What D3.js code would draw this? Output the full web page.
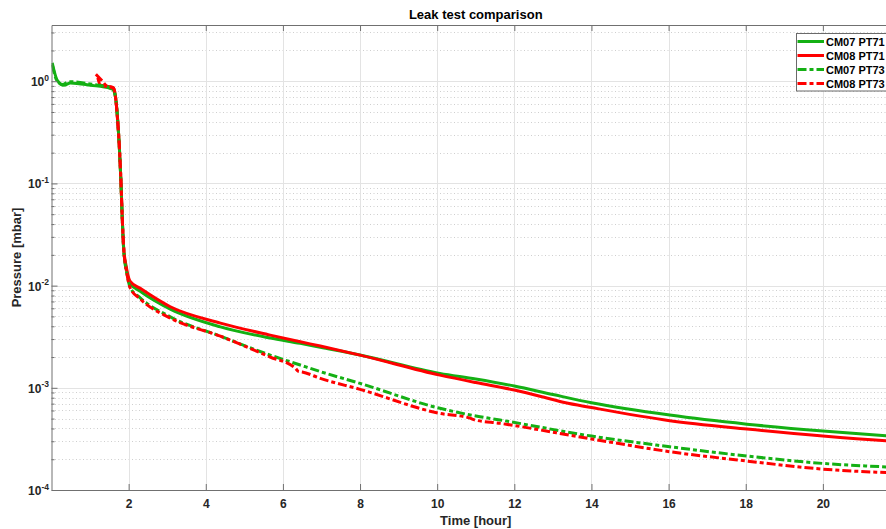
<!DOCTYPE html>
<html>
<head>
<meta charset="utf-8">
<script src="https://cdn.jsdelivr.net/npm/d3@7"></script>
<style>
  html, body { margin: 0; padding: 0; background: #fff; }
  svg { display: block; font-family: "Liberation Sans", Arial, Helvetica, sans-serif; }
</style>
</head>
<body>
<svg id="chart" width="886" height="529"></svg>
<script>
// ---------------- DATA ----------------
const seriesNames = ["CM07 PT71", "CM08 PT71", "CM07 PT73", "CM08 PT73"];
const seriesColors = ["#14b014", "#ff0000", "#14b014", "#ff0000"];
const seriesDashed = [false, false, true, true];

// time [hour] / pressure [mbar]
const timeCM07PT71 = [0.02, 0.15, 0.32, 0.49, 1.01, 1.53, 1.6, 1.66, 1.71, 1.76, 1.8, 1.83, 1.87, 1.94, 2.04, 2.3, 3.08, 4.38, 5.67, 6.45, 6.97, 8.0, 10.07, 11.0, 12.0, 13.0, 14.0, 16.03, 18.03, 20.0, 21.63, 22.0];
const presCM07PT71 = [1.51, 1.02, 0.914, 0.962, 0.914, 0.848, 0.83, 0.70, 0.45, 0.22, 0.105, 0.05, 0.023, 0.0145, 0.0105, 0.0088, 0.00589, 0.00395, 0.00307, 0.00272, 0.00249, 0.00209, 0.00138, 0.001218, 0.00104, 0.000859, 0.000714, 0.000541, 0.000441, 0.000377, 0.00034, 0.000333];

const timeCM08PT71 = [1.2, 1.27, 1.42, 1.57, 1.61, 1.66, 1.70, 1.76, 1.80, 1.83, 1.87, 1.94, 2.04, 2.3, 3.08, 4.38, 5.67, 6.45, 6.97, 8.0, 10.07, 11.0, 12.0, 12.75, 13.3, 14.0, 16.03, 18.03, 20.0, 21.63, 22.0];
const presCM08PT71 = [1.08, 0.914, 0.894, 0.874, 0.854, 0.70, 0.486, 0.227, 0.107, 0.051, 0.024, 0.0152, 0.011, 0.0094, 0.00621, 0.0043, 0.00328, 0.00282, 0.00256, 0.00209, 0.00133, 0.001125, 0.000951, 0.000812, 0.000717, 0.000641, 0.000477, 0.000395, 0.000337, 0.000303, 0.000297];

const timeCM07PT73 = [0.02, 0.15, 0.3, 0.45, 1.0, 1.5, 1.58, 1.66, 1.71, 1.76, 1.8, 1.83, 1.87, 1.96, 2.04, 2.3, 3.08, 4.38, 5.67, 6.45, 6.97, 8.0, 10.07, 11.11, 11.63, 14.0, 16.03, 18.03, 20.0, 21.63, 22.0];
const presCM07PT73 = [1.45, 1.0, 0.93, 0.99, 0.94, 0.87, 0.85, 0.70, 0.45, 0.22, 0.105, 0.05, 0.023, 0.0128, 0.0096, 0.0076, 0.00495, 0.0032, 0.00209, 0.00167, 0.00144, 0.001105, 0.00063, 0.000521, 0.000484, 0.000337, 0.000265, 0.000215, 0.000182, 0.000168, 0.000165];

const timeCM08PT73 = [1.15, 1.3, 1.45, 1.58, 1.61, 1.66, 1.70, 1.76, 1.80, 1.83, 1.87, 1.96, 2.04, 2.3, 3.08, 4.38, 5.67, 6.32, 6.40, 6.50, 6.97, 8.0, 10.07, 10.85, 10.95, 11.63, 14.0, 16.03, 18.03, 20.0, 21.63, 22.0];
const presCM08PT73 = [1.17, 1.02, 0.89, 0.87, 0.854, 0.70, 0.486, 0.227, 0.107, 0.051, 0.024, 0.0128, 0.0095, 0.0074, 0.00481, 0.0032, 0.0020, 0.00156, 0.00145, 0.00143, 0.001237, 0.000966, 0.000562, 0.000505, 0.000488, 0.000449, 0.000316, 0.000237, 0.000192, 0.00016, 0.000148, 0.000146];

const xTickValues = [2, 4, 6, 8, 10, 12, 14, 16, 18, 20];
const yDecades = [1e-4, 1e-3, 1e-2, 1e-1, 1];
const yExponents = ["-4", "-3", "-2", "-1", "0"];

const titleText = "Leak test comparison";
const xLabelText = "Time [hour]";
const yLabelText = "Pressure [mbar]";

// ---------------- CHART ----------------
const svg = d3.select("#chart");
const W = 886, H = 529;
const mLeft = 51.5, mRight = 900, mTop = 25, mBottom = 490;

svg.append("rect").attr("width", W).attr("height", H).attr("fill", "#fff");

const x = d3.scaleLinear().domain([0, 22]).range([mLeft, mRight]);
const y = d3.scaleLog().domain([1e-4, 3.55]).range([mBottom, mTop]);

const yMinor = [];
yDecades.forEach(d => { for (let k = 2; k <= 9; k++) { const v = d * k; if (v <= 3.55) yMinor.push(v); } });

const grid = svg.append("g");
grid.selectAll("line.ymin").data(yMinor).join("line")
  .attr("x1", mLeft).attr("x2", mRight)
  .attr("y1", d => Math.round(y(d)) + 0.5).attr("y2", d => Math.round(y(d)) + 0.5)
  .attr("stroke", "#cfcfcf").attr("stroke-width", 1).attr("stroke-dasharray", "1,2.5");
grid.selectAll("line.ymaj").data(yDecades).join("line")
  .attr("x1", mLeft).attr("x2", mRight)
  .attr("y1", d => Math.round(y(d)) + 0.5).attr("y2", d => Math.round(y(d)) + 0.5)
  .attr("stroke", "#e3e3e3").attr("stroke-width", 1);
grid.selectAll("line.xmaj").data(xTickValues).join("line")
  .attr("y1", mTop).attr("y2", mBottom)
  .attr("x1", d => Math.round(x(d)) + 0.5).attr("x2", d => Math.round(x(d)) + 0.5)
  .attr("stroke", "#e3e3e3").attr("stroke-width", 1);

svg.append("defs").append("clipPath").attr("id", "clip")
  .append("rect").attr("x", mLeft).attr("y", mTop).attr("width", mRight - mLeft).attr("height", mBottom - mTop);

const seriesTimes = [timeCM07PT71, timeCM08PT71, timeCM07PT73, timeCM08PT73];
const seriesPres = [presCM07PT71, presCM08PT71, presCM07PT73, presCM08PT73];

const line = d3.line().x(d => x(d[0])).y(d => y(d[1])).curve(d3.curveMonotoneX);
const plot = svg.append("g").attr("clip-path", "url(#clip)");
seriesNames.forEach((name, i) => {
  const pts = seriesTimes[i].map((t, j) => [t, seriesPres[i][j]]);
  plot.append("path").datum(pts)
    .attr("d", line)
    .attr("fill", "none")
    .attr("stroke", seriesColors[i])
    .attr("stroke-width", 3)
    .attr("stroke-linejoin", "round")
    .attr("stroke-dasharray", seriesDashed[i] ? "9,3,4,3" : null);
});

const axisColor = "#707070";
const textColor = "#262626";

const xAxis = svg.append("g").attr("transform", `translate(0,${mBottom})`)
  .call(d3.axisBottom(x).tickValues(xTickValues).tickSizeInner(-6).tickSizeOuter(0).tickPadding(9).tickFormat(d3.format("d")));
const xTop = svg.append("g").attr("transform", `translate(0,${mTop})`)
  .call(d3.axisTop(x).tickValues(xTickValues).tickSizeInner(-6).tickSizeOuter(0).tickFormat(""));
const yAxis = svg.append("g").attr("transform", `translate(${mLeft},0)`)
  .call(d3.axisLeft(y).tickValues(yDecades).tickSizeInner(-6).tickSizeOuter(0).tickFormat(""));
const yAxisMinor = svg.append("g").attr("transform", `translate(${mLeft},0)`)
  .call(d3.axisLeft(y).tickValues(yMinor).tickSizeInner(-3).tickSizeOuter(0).tickFormat(""));

[xAxis, xTop, yAxis, yAxisMinor].forEach(g => {
  g.selectAll("path.domain").attr("stroke", axisColor);
  g.selectAll(".tick line").attr("stroke", axisColor);
});
yAxisMinor.select("path.domain").remove();
xAxis.selectAll(".tick text")
  .attr("fill", textColor).attr("font-size", 12).attr("font-weight", "bold")
  .attr("font-family", "Liberation Sans, Arial, sans-serif");

const yl = svg.append("g");
yDecades.forEach((d, i) => {
  const t = yl.append("text")
    .attr("x", 49).attr("y", y(d) + 5)
    .attr("text-anchor", "end")
    .attr("fill", textColor)
    .attr("font-size", 12).attr("font-weight", "bold");
  t.append("tspan").text("10");
  t.append("tspan").attr("dy", -5.5).attr("font-size", 8.5).text(yExponents[i]);
});

svg.append("text").attr("x", (mLeft + mRight) / 2).attr("y", 19)
  .attr("text-anchor", "middle").attr("font-size", 13).attr("font-weight", "bold")
  .attr("fill", "#000").text(titleText);
svg.append("text").attr("x", (mLeft + mRight) / 2).attr("y", 525)
  .attr("text-anchor", "middle").attr("font-size", 13).attr("font-weight", "bold")
  .attr("fill", textColor).text(xLabelText);
svg.append("text").attr("transform", `translate(21,${(mTop + mBottom) / 2}) rotate(-90)`)
  .attr("text-anchor", "middle").attr("font-size", 13).attr("font-weight", "bold")
  .attr("fill", textColor).text(yLabelText);

const lg = svg.append("g");
lg.append("rect").attr("x", 796.5).attr("y", 33.5).attr("width", 100).attr("height", 57.5)
  .attr("fill", "#fff").attr("stroke", "#6a6a6a").attr("stroke-width", 1);
seriesNames.forEach((name, i) => {
  const cy = 41.5 + i * 14;
  lg.append("line").attr("x1", 797.5).attr("x2", 824).attr("y1", cy).attr("y2", cy)
    .attr("stroke", seriesColors[i]).attr("stroke-width", 3)
    .attr("stroke-dasharray", seriesDashed[i] ? "9,3,4,3" : null);
  lg.append("text").attr("x", 826).attr("y", cy + 4)
    .attr("font-size", 11).attr("font-weight", "bold").attr("fill", "#000").text(name);
});
</script>
</body>
</html>
